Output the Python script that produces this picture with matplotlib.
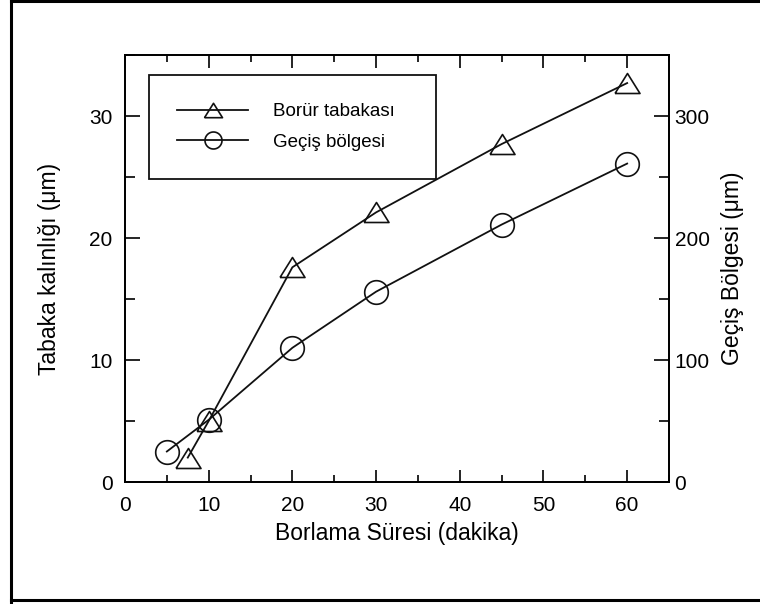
import numpy as np
import matplotlib
matplotlib.use('Agg')
import matplotlib.pyplot as plt
from matplotlib.lines import Line2D
from matplotlib.ticker import MultipleLocator

plt.rcParams['font.family'] = ['Liberation Sans', 'DejaVu Sans']

# borlama süresi (dakika) ve ölçülen kalınlıklar
sure_borur = [7.5, 10, 20, 30, 45, 60]
borur_tabakasi = [2.0, 5.0, 17.6, 22.1, 27.7, 32.7]     # sol eksen, um
sure_gecis = [5, 10, 20, 30, 45, 60]
gecis_bolgesi = [25, 51, 110, 156, 211, 261]          # sağ eksen, um

# basık üçgen ve daire işaretleri
ucgen = [(-1, -0.8), (1, -0.8), (0, 0.8), (-1, -0.8)]
t = np.linspace(0, 2 * np.pi, 61)
daire = list(zip(np.cos(t), np.sin(t)))

fig = plt.figure(figsize=(7.6, 6.04), dpi=100)
ax = fig.add_axes([125 / 760, 122 / 604, 544 / 760, 427 / 604])
ax2 = ax.twinx()

l1, = ax.plot(sure_borur, borur_tabakasi, color='#111111', lw=1.3,
              marker=ucgen, ms=18, mfc='none', mec='#111111', mew=1.2,
              label='Borür tabakası')
l2, = ax2.plot(sure_gecis, gecis_bolgesi, color='#111111', lw=1.3,
               marker=daire, ms=17, mfc='none', mec='#111111', mew=1.2,
               label='Geçiş bölgesi')

ax.set_xlim(0, 65)
ax.set_ylim(0, 35)
ax2.set_ylim(0, 350)
ax.xaxis.set_major_locator(MultipleLocator(10))
ax.xaxis.set_minor_locator(MultipleLocator(5))
ax.yaxis.set_major_locator(MultipleLocator(10))
ax.yaxis.set_minor_locator(MultipleLocator(5))
ax2.yaxis.set_major_locator(MultipleLocator(100))
ax2.yaxis.set_minor_locator(MultipleLocator(50))

for a in (ax, ax2):
    for s in a.spines.values():
        s.set_linewidth(1.3)

ax.tick_params(axis='x', which='both', direction='in', top=True, labelsize=15, pad=10, width=1.2)
ax.tick_params(axis='x', which='major', length=9)
ax.tick_params(axis='x', which='minor', length=5)
ax.tick_params(axis='y', which='both', direction='in', right=False, labelsize=15, pad=9, width=1.2)
ax.tick_params(axis='y', which='major', length=11)
ax.tick_params(axis='y', which='minor', length=7)
ax2.tick_params(axis='y', which='both', direction='in', labelsize=15, pad=4, width=1.2)
ax2.tick_params(axis='y', which='major', length=11)
ax2.tick_params(axis='y', which='minor', length=7)

ax.set_xlabel('Borlama Süresi (dakika)', fontsize=16.5)
ax.xaxis.set_label_coords(0.5, -0.093)
ax.set_ylabel('Tabaka kalınlığı (μm)', fontsize=16.5)
ax.yaxis.set_label_coords(-0.118, 0.5)
ax2.set_ylabel('Geçiş Bölgesi (μm)', fontsize=16.5)
ax2.yaxis.set_label_coords(1.095, 0.5)

# lejant kutusu: sol üst köşe eksen içinde sabit
leg = ax2.legend(handles=[l1, l2], loc='upper left',
                 bbox_to_anchor=(24 / 544, 0.5, 287 / 544, 407 / 427 - 0.5),
                 mode='expand', borderaxespad=0, fontsize=13.5, markerscale=0.72,
                 handlelength=3.8, handletextpad=1.3, borderpad=1.5,
                 labelspacing=0.72, fancybox=False, framealpha=1)
leg.get_frame().set_edgecolor('#111111')
leg.get_frame().set_linewidth(1.3)

# dış çerçeve (sol, üst, alt)
for xs, ys in [([11 / 760, 11 / 760], [0, 1]),
               ([11 / 760, 1], [1 - 0.8 / 604, 1 - 0.8 / 604]),
               ([11 / 760, 1], [4 / 604, 4 / 604])]:
    fig.add_artist(Line2D(xs, ys, transform=fig.transFigure, color='black', lw=2.2))

fig.savefig('out.png', dpi=100)
